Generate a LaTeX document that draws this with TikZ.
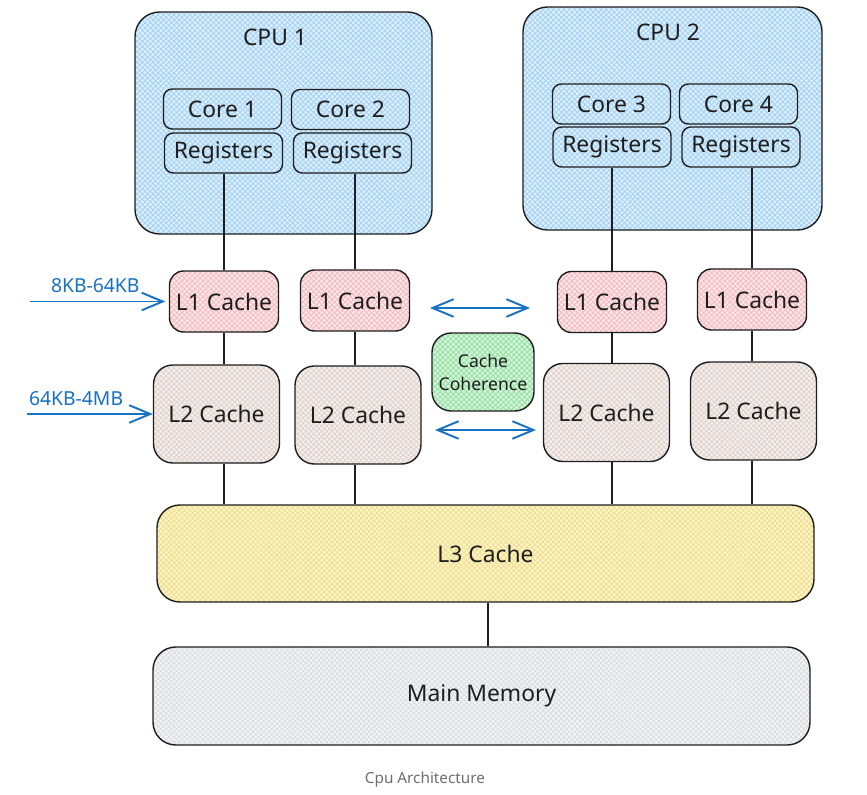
\documentclass[tikz,border=0pt]{standalone}
\usepackage{fontspec}
\setmainfont{Noto Sans}
\usetikzlibrary{arrows.meta,patterns}

\definecolor{ink}{HTML}{1E1E1E}
\definecolor{flowblue}{HTML}{1971C2}
\definecolor{cpufill}{HTML}{DCEEFB}
\definecolor{cpuhatch}{HTML}{9FD0F5}
\definecolor{lonefill}{HTML}{FCE6E8}
\definecolor{lonehatch}{HTML}{F4B8BE}
\definecolor{ltwofill}{HTML}{F4EFEC}
\definecolor{ltwohatch}{HTML}{DDD0CA}
\definecolor{cohfill}{HTML}{D6F5DB}
\definecolor{cohhatch}{HTML}{8EDD9C}
\definecolor{lthreefill}{HTML}{FCF4CF}
\definecolor{lthreehatch}{HTML}{F0DC80}
\definecolor{memfill}{HTML}{F2F3F5}
\definecolor{memhatch}{HTML}{D8DCE1}
\definecolor{captiongray}{HTML}{6E6E6E}

\newlength{\pxu}
\setlength{\pxu}{0.02cm}

\begin{document}
\begin{tikzpicture}[x=0.02cm, y=-0.02cm,
    box/.style={draw=ink, line width=0.8pt, inner sep=0pt, align=center, text=ink,
        font=\fontsize{13}{15}\selectfont},
    cpubox/.style={box, rounded corners=14pt, preaction={fill=cpufill},
        pattern=crosshatch, pattern color=cpuhatch},
    corebox/.style={box, rounded corners=5pt, preaction={fill=cpufill},
        pattern=crosshatch, pattern color=cpuhatch,
        minimum width=118\pxu, minimum height=40\pxu},
    lonebox/.style={box, rounded corners=8pt, preaction={fill=lonefill},
        pattern=crosshatch, pattern color=lonehatch,
        minimum width=109\pxu, minimum height=61\pxu},
    ltwobox/.style={box, rounded corners=11pt, preaction={fill=ltwofill},
        pattern=crosshatch, pattern color=ltwohatch,
        minimum width=126\pxu, minimum height=98\pxu},
    link/.style={draw=ink, line width=0.7pt},
    flow/.style={draw=flowblue, line width=1.1pt, -{Straight Barb[length=12pt,width=10pt]}},
    both/.style={flow, {Straight Barb[length=12pt,width=10pt]}-{Straight Barb[length=12pt,width=10pt]}}]

    % Sfondo e cornice
    \fill[white] (0,0) rectangle (867,795);
    \useasboundingbox (0,0) rectangle (867,795);

    % Processori
    \node[cpubox, minimum width=297\pxu, minimum height=222\pxu] (cpu1) at (283.5,123) {};
    \node[font=\fontsize{13}{15}\selectfont, text=ink] (cpu1lbl) at (275,37) {CPU 1};
    \node[cpubox, minimum width=299\pxu, minimum height=223\pxu] (cpu2) at (672.5,118.5) {};
    \node[font=\fontsize{13}{15}\selectfont, text=ink] (cpu2lbl) at (668,32) {CPU 2};

    % Core e registri
    \node[corebox] (core1) at (222.5,109) {Core 1};
    \node[corebox] (core2) at (350.5,109.5) {Core 2};
    \node[corebox] (core3) at (611.5,104) {Core 3};
    \node[corebox] (core4) at (738.5,104) {Core 4};
    \node[corebox] (reg1) at (223.5,153) {Registers};
    \node[corebox] (reg2) at (352.5,153) {Registers};
    \node[corebox] (reg3) at (612,147) {Registers};
    \node[corebox] (reg4) at (741,147) {Registers};

    % Cache L1 e L2
    \node[lonebox] (l1a) at (224,301.5) {L1 Cache};
    \node[lonebox] (l1b) at (355,300.5) {L1 Cache};
    \node[lonebox] (l1c) at (612,302) {L1 Cache};
    \node[lonebox] (l1d) at (752,299.5) {L1 Cache};
    \node[ltwobox] (l2a) at (216.5,414) {L2 Cache};
    \node[ltwobox] (l2b) at (358,415) {L2 Cache};
    \node[ltwobox] (l2c) at (606.5,412.5) {L2 Cache};
    \node[ltwobox] (l2d) at (753.5,411) {L2 Cache};

    % Coerenza
    \node[box, rounded corners=11pt, preaction={fill=cohfill},
        pattern=crosshatch, pattern color=cohhatch,
        minimum width=102\pxu, minimum height=78\pxu,
        font=\fontsize{10}{13}\selectfont] (coh) at (483,372) {Cache\\Coherence};

    % L3 e memoria principale
    \node[box, rounded corners=13pt, preaction={fill=lthreefill},
        pattern=crosshatch, pattern color=lthreehatch,
        minimum width=657\pxu, minimum height=97\pxu] (l3) at (485.5,553.5) {L3 Cache};
    \node[box, rounded corners=13pt, preaction={fill=memfill},
        pattern=crosshatch, pattern color=memhatch,
        minimum width=657\pxu, minimum height=98\pxu] (mem) at (481.5,696) {Main Memory};

    % Collegamenti verticali
    \draw[link] (reg1.south -| l1a) -- (l1a.north) (l1a.south) -- (l1a |- l2a.north)
        (l1a |- l2a.south) -- (l1a |- l3.north);
    \draw[link] (reg2.south -| l1b) -- (l1b.north) (l1b.south) -- (l1b |- l2b.north)
        (l1b |- l2b.south) -- (l1b |- l3.north);
    \draw[link] (reg3.south -| l1c) -- (l1c.north) (l1c.south) -- (l1c |- l2c.north)
        (l1c |- l2c.south) -- (l1c |- l3.north);
    \draw[link] (reg4.south -| l1d) -- (l1d.north) (l1d.south) -- (l1d |- l2d.north)
        (l1d |- l2d.south) -- (l1d |- l3.north);
    \draw[link] (l3.south -| 488,0) -- (488,0 |- mem.north);

    % Frecce di coerenza
    \coordinate (cohonew) at (430,308);
    \coordinate (cohonee) at (530,308);
    \coordinate (cohtwow) at (435,430);
    \coordinate (cohtwoe) at (536,430);
    \draw[both] (cohonew) -- (cohonee);
    \draw[both] (cohtwow) -- (cohtwoe);

    % Dimensioni tipiche
    \coordinate (sizeone) at (30,301.5);
    \coordinate (sizetwo) at (27,414);
    \draw[flow, shorten >=2pt] (sizeone) -- (l1a.west)
        node[pos=0.47, above=1pt, font=\fontsize{11}{13}\selectfont, text=flowblue] (sizeonelbl) {8KB-64KB};
    \draw[flow] (sizetwo) -- (l2a.west)
        node[pos=0.39, above=1pt, font=\fontsize{11}{13}\selectfont, text=flowblue] (sizetwolbl) {64KB-4MB};

    % Didascalia
    \node[font=\fontsize{8.7}{10}\selectfont, text=captiongray] (caption) at (425,780) {Cpu Architecture};

\end{tikzpicture}
\end{document}
